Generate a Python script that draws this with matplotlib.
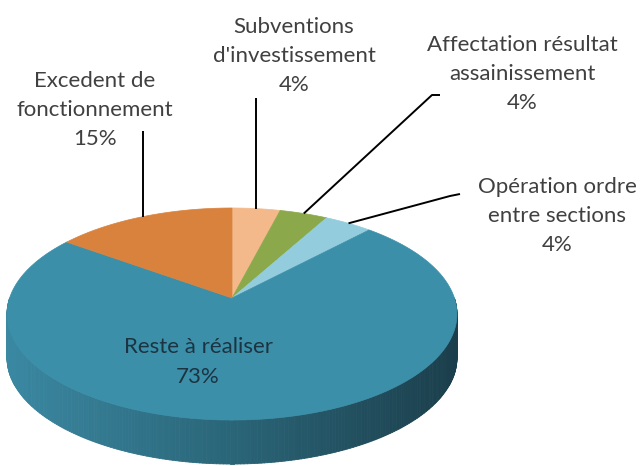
import numpy as np
import matplotlib.pyplot as plt
from matplotlib.patches import Polygon
from matplotlib.collections import PolyCollection
from matplotlib.colors import to_rgb

# data (clockwise from 12 o'clock)
labels = ["Subventions\nd'investissement", "Affectation résultat\nassainissement",
          "Opération ordre\nentre sections", "Reste à réaliser", "Excedent de\nfonctionnement"]
values = [4, 4, 4, 73, 15]
colors = ['#F4B98A', '#8BA94B', '#93CDDD', '#3C8FA9', '#D9823E']

# text label centres + leader elbow points (pixels)
label_pos = [(294, 56), (522, 74), (557, 216), (198, 362), (95, 110)]
leader_pts = [[(256, 98)],
              [(432, 95), (440, 95)],
              [(450, 196), (460, 194)],
              None,
              [(143, 131)]]

# geometry of the 3d pie (perspective disk)
cx, cy = 232, 298
A, B, k = 222.4, 103.6, 0.151
depth = 44


def proj(t):
    u, v = np.cos(t), np.sin(t)
    return cx + A * u / (1 + k * v), cy - B * v / (1 + k * v)


fig = plt.figure(figsize=(6.43, 4.66), dpi=100)
ax = fig.add_axes([0, 0, 1, 1])
ax.set_xlim(0, 643)
ax.set_ylim(466, 0)
ax.axis('off')

# side (front half is entirely the big slice) with shading left->right
ts = np.linspace(np.pi, 2 * np.pi, 240)
xs, ys = proj(ts)
c_left, c_mid, c_right = np.array(to_rgb('#3A88A2')), np.array(to_rgb('#2A6578')), np.array(to_rgb('#1B3E4B'))
quads = []
qcols = []
for i in range(len(ts) - 1):
    quads.append([(xs[i], ys[i]), (xs[i + 1], ys[i + 1]),
                  (xs[i + 1], ys[i + 1] + depth), (xs[i], ys[i] + depth)])
    f = ((xs[i] + xs[i + 1]) / 2 - (cx - 225)) / 450
    if f < 0.5:
        c = c_left + (c_mid - c_left) * f * 2
    else:
        c = c_mid + (c_right - c_mid) * (f - 0.5) * 2
    qcols.append(c)
ax.add_collection(PolyCollection(quads, facecolors=qcols, edgecolors=qcols, linewidths=0.6))

# top face
fr = np.cumsum([0] + values) / sum(values)
for i in range(len(values)):
    a0 = np.pi / 2 - 2 * np.pi * fr[i]
    a1 = np.pi / 2 - 2 * np.pi * fr[i + 1]
    t = np.linspace(a0, a1, 200)
    px, py = proj(t)
    pts = [(cx, cy)] + list(zip(px, py))
    ax.add_patch(Polygon(pts, closed=True, facecolor=colors[i], edgecolor=colors[i], lw=0.5))

    pct = '%d%%' % values[i]
    lx, ly = label_pos[i]
    if leader_pts[i] is None:
        ax.text(lx, ly, labels[i] + '\n' + pct, ha='center', va='center', fontsize=16,
                family='Lato', color='#1C3441', linespacing=1.65)
        continue
    ax.text(lx, ly, labels[i] + '\n' + pct, ha='center', va='center', fontsize=16,
            family='Lato', color='#404040', linespacing=1.55)
    tm = (a0 + a1) / 2
    ex, ey = proj(tm)
    lxs = [ex] + [p[0] for p in leader_pts[i]]
    lys = [ey] + [p[1] for p in leader_pts[i]]
    if len(leader_pts[i]) == 1:
        lxs[1] = ex
    ax.plot(lxs, lys, color='black', lw=1.4, solid_capstyle='butt')

fig.savefig('out.png', dpi=100)
